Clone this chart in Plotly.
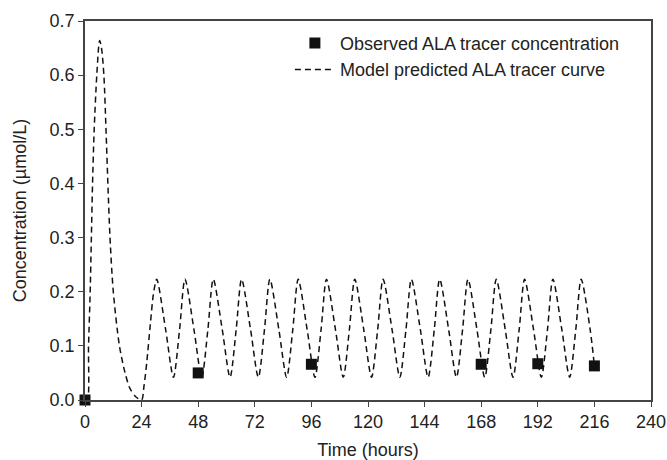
import plotly.graph_objects as go

# Observed ALA tracer concentration (squares)
obs_time = [0, 48, 96, 168, 192, 216]
obs_conc = [0.0, 0.05, 0.066, 0.066, 0.067, 0.063]

# Model predicted ALA tracer curve (key points)
model_time = [
    0, 1.0, 1.5, 2.2, 2.7, 3.2, 3.9, 5.0, 6.2, 7.0, 8.0, 8.9, 9.7, 10.6, 12.0, 14.6, 17.0, 19.0, 21.5, 24.0,
    25.0, 26.2, 27.7, 29.0,
    30.4, 34.2, 37.5, 40.1,
    42.4, 46.2, 49.5, 52.1,
    54.4, 58.2, 61.5, 64.1,
    66.4, 70.2, 73.5, 76.1,
    78.4, 82.2, 85.5, 88.1,
    90.4, 94.2, 97.5, 100.1,
    102.4, 106.2, 109.5, 112.1,
    114.4, 118.2, 121.5, 124.1,
    126.4, 130.2, 133.5, 136.1,
    138.4, 142.2, 145.5, 148.1,
    150.4, 154.2, 157.5, 160.1,
    162.4, 166.2, 169.5, 172.1,
    174.4, 178.2, 181.5, 184.1,
    186.4, 190.2, 193.5, 196.1,
    198.4, 202.2, 205.5, 208.1,
    210.4, 214.2, 216.0,
]
model_conc = [
    0.0, 0.0, 0.1, 0.2, 0.3, 0.4, 0.5, 0.6, 0.664, 0.65, 0.6, 0.5, 0.4, 0.3, 0.2, 0.1, 0.05, 0.022, 0.006, 0.0,
    0.025, 0.07, 0.14, 0.195,
    0.223, 0.13, 0.042, 0.13,
    0.223, 0.13, 0.042, 0.13,
    0.223, 0.13, 0.042, 0.13,
    0.223, 0.13, 0.042, 0.13,
    0.223, 0.13, 0.042, 0.13,
    0.223, 0.13, 0.042, 0.13,
    0.223, 0.13, 0.042, 0.13,
    0.223, 0.13, 0.042, 0.13,
    0.223, 0.13, 0.042, 0.13,
    0.223, 0.13, 0.042, 0.13,
    0.223, 0.13, 0.042, 0.13,
    0.223, 0.13, 0.042, 0.13,
    0.223, 0.13, 0.042, 0.13,
    0.223, 0.13, 0.042, 0.13,
    0.223, 0.13, 0.042, 0.13,
    0.223, 0.13, 0.063,
]

x_ticks = [0, 24, 48, 72, 96, 120, 144, 168, 192, 216, 240]
y_ticks = [0.0, 0.1, 0.2, 0.3, 0.4, 0.5, 0.6, 0.7]

FONT = "Liberation Sans, Arial, sans-serif"
INK = "#222222"
FS = 18

fig = go.Figure()
fig.add_trace(go.Scatter(
    x=model_time, y=model_conc, mode="lines",
    name="Model predicted ALA tracer curve",
    line=dict(color="#111111", width=1.5, dash="6px,4px", shape="spline", smoothing=0.8),
    legendrank=2,
))
fig.add_trace(go.Scatter(
    x=obs_time, y=obs_conc, mode="markers",
    name="Observed ALA tracer concentration",
    marker=dict(symbol="square", size=11, color="#111111"),
    cliponaxis=False,
    legendrank=1,
))

axis_common = dict(
    showgrid=False, zeroline=False, showline=True, linecolor="#444444", linewidth=1.5,
    mirror=True, ticks="outside", ticklen=5, tickcolor="#444444", tickwidth=1,
    tickfont=dict(family=FONT, size=FS, color=INK), automargin=False,
)
fig.update_xaxes(range=[0, 240], tickvals=x_ticks, ticktext=[str(v) for v in x_ticks],
                 title=dict(text="Time (hours)", font=dict(family=FONT, size=FS, color=INK), standoff=13),
                 **axis_common)
fig.update_yaxes(range=[0, 0.7], tickvals=y_ticks, ticktext=[f"{v:.1f}" for v in y_ticks],
                 title=dict(text="Concentration (µmol/L)", font=dict(family=FONT, size=FS, color=INK), standoff=18),
                 **axis_common)

fig.update_layout(
    width=667, height=460,
    margin=dict(l=85, r=16, t=21, b=60),
    paper_bgcolor="white", plot_bgcolor="white",
    showlegend=True,
    legend=dict(x=0.362, y=0.99, xanchor="left", yanchor="top",
                bgcolor="rgba(0,0,0,0)", borderwidth=0,
                font=dict(family=FONT, size=FS, color=INK),
                itemwidth=40, tracegroupgap=0),
    font=dict(family=FONT, size=FS, color=INK),
)

# remove the default 8px page margin so the figure fills the window exactly
fig.write_html("out.html", config={"displayModeBar": False},
               post_script="document.body.style.margin='0';document.body.style.overflow='hidden';")
